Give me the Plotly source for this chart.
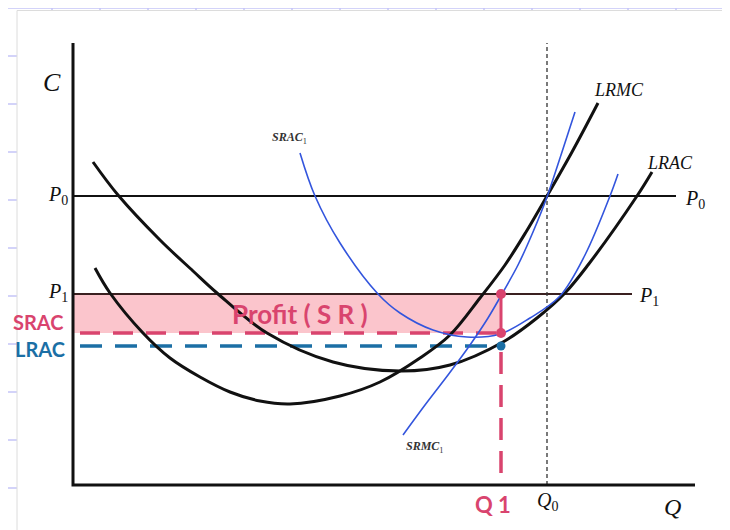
import plotly.graph_objects as go

# ---------------- data (Q, C units) ----------------
lrac_q = [2.0, 4.5, 8.7, 12.0, 14.4, 19.4, 26.0, 32.7, 37.7, 43.0, 46.4, 49.2, 51.5, 56.4, 57.9]
lrac_c = [32.3, 29.0, 24.5, 21.4, 19.2, 15.2, 12.3, 11.4, 12.0, 14.3, 16.7, 19.2, 22.0, 28.9, 31.3]

lrmc_q = [2.2, 3.7, 7.0, 9.7, 12.7, 15.7, 18.7, 21.7, 26.7, 30.7, 34.7, 37.7, 40.7, 43.2, 45.3, 47.4, 49.9, 52.5]
lrmc_c = [21.7, 19.2, 15.2, 12.7, 10.8, 9.3, 8.4, 8.1, 8.9, 10.3, 12.7, 15.0, 18.7, 22.0, 25.3, 28.9, 33.3, 38.2]

srac_q = [22.7, 24.2, 26.7, 30.5, 32.7, 36.0, 39.4, 42.7, 45.7, 48.7, 51.2, 53.7, 54.5]
srac_c = [33.2, 28.9, 24.2, 19.1, 17.2, 15.5, 14.8, 15.1, 16.7, 18.9, 23.0, 28.9, 31.1]

srmc_q = [33.0, 35.2, 37.5, 39.7, 41.5, 42.9, 44.5, 46.0, 47.4, 48.8, 50.2]
srmc_c = [5.0, 8.0, 11.0, 14.0, 16.7, 19.1, 22.0, 25.3, 28.8, 33.0, 37.3]

P0 = 28.9
P1 = 19.1
Q0 = 47.4
Q1 = 42.8
SRAC_AT_Q1 = 15.2
LRAC_AT_Q1 = 13.9
Q_AXIS_END = 62.2
C_AXIS_END = 44.2
P0_LINE_END = 60.3
P1_LINE_END = 55.9
DASH_START = 0.7

# ---------------- styles ----------------
BLACK = "#111111"
BLUE = "#3355dd"
PINK = "#d9446e"
TEAL = "#1b6fa5"
GRID = "#c4c4f7"
SERIF = "Liberation Serif, DejaVu Serif, serif"
HAND = "Lato, Noto Sans, sans-serif"

PAGE_W, PAGE_H = 730, 530
OFF = 8                       # default page margin of the html body
W, H = PAGE_W - OFF, PAGE_H - OFF
ORIGIN_X, ORIGIN_Y, UNIT = 73, 485, 10   # page pixel of (0,0) and pixels per unit

x_range = [(OFF - ORIGIN_X) / UNIT, (PAGE_W - ORIGIN_X) / UNIT]
y_range = [(ORIGIN_Y - PAGE_H) / UNIT, (ORIGIN_Y - OFF) / UNIT]

fig = go.Figure()

# profit rectangle
fig.add_trace(go.Scatter(
    x=[0, Q1, Q1, 0, 0], y=[P1, P1, SRAC_AT_Q1, SRAC_AT_Q1, P1],
    fill="toself", fillcolor="rgba(247,150,162,0.55)", line=dict(width=0),
    mode="lines", hoverinfo="skip"))

# price lines
fig.add_trace(go.Scatter(x=[0, P0_LINE_END], y=[P0, P0], mode="lines",
                         line=dict(color=BLACK, width=2)))
fig.add_trace(go.Scatter(x=[0, P1_LINE_END], y=[P1, P1], mode="lines",
                         line=dict(color="#3a2020", width=2)))

# Q0 dotted vertical
fig.add_trace(go.Scatter(x=[Q0, Q0], y=[0, C_AXIS_END], mode="lines",
                         line=dict(color="#333333", width=1.3, dash="4px,3px")))

# dashed SRAC / LRAC levels
fig.add_trace(go.Scatter(x=[DASH_START, Q1], y=[SRAC_AT_Q1, SRAC_AT_Q1], mode="lines",
                         line=dict(color=PINK, width=3.5, dash="20px,13px")))
fig.add_trace(go.Scatter(x=[DASH_START, Q1], y=[LRAC_AT_Q1, LRAC_AT_Q1], mode="lines",
                         line=dict(color=TEAL, width=3.5, dash="22px,13px")))

# curves
fig.add_trace(go.Scatter(x=lrac_q, y=lrac_c, mode="lines",
                         line=dict(color=BLACK, width=3, shape="spline", smoothing=1.0)))
fig.add_trace(go.Scatter(x=lrmc_q, y=lrmc_c, mode="lines",
                         line=dict(color=BLACK, width=3, shape="spline", smoothing=1.0)))
fig.add_trace(go.Scatter(x=srac_q, y=srac_c, mode="lines",
                         line=dict(color=BLUE, width=1.6, shape="spline", smoothing=1.0)))
fig.add_trace(go.Scatter(x=srmc_q, y=srmc_c, mode="lines",
                         line=dict(color=BLUE, width=1.6, shape="spline", smoothing=0.8)))

# Q1 vertical: solid between P1 and SRAC, dashed below
fig.add_trace(go.Scatter(x=[Q1, Q1], y=[P1, SRAC_AT_Q1], mode="lines",
                         line=dict(color=PINK, width=3)))
fig.add_trace(go.Scatter(x=[Q1, Q1], y=[LRAC_AT_Q1 - 0.6, 0], mode="lines",
                         line=dict(color=PINK, width=3.5, dash="22px,11px")))

# points
fig.add_trace(go.Scatter(x=[Q1, Q1], y=[P1, SRAC_AT_Q1], mode="markers",
                         marker=dict(color=PINK, size=10)))
fig.add_trace(go.Scatter(x=[Q1], y=[LRAC_AT_Q1], mode="markers",
                         marker=dict(color=TEAL, size=9)))

# axes
fig.add_trace(go.Scatter(x=[0, 0, Q_AXIS_END], y=[C_AXIS_END, 0, 0], mode="lines",
                         line=dict(color=BLACK, width=3)))

# ---------------- background grid (paper) ----------------
def px_x(p):
    return (p - OFF) / W


def px_y(p):
    return 1 - (p - OFF) / H


shapes = []
for i in range(16):
    px = 4 + 48 * i
    shapes.append(dict(type="line", xref="paper", yref="paper", x0=px_x(px), x1=px_x(px), y0=0, y1=1,
                       line=dict(color=GRID, width=1.5), layer="below"))
for j in range(12):
    py = 8 + 48 * j
    shapes.append(dict(type="line", xref="paper", yref="paper", x0=0, x1=1,
                       y0=px_y(py), y1=px_y(py), line=dict(color=GRID, width=1.5), layer="below"))
shapes.append(dict(type="rect", xref="paper", yref="paper", x0=px_x(17), x1=1.01, y0=-0.01, y1=px_y(10.5),
                   fillcolor="white", line=dict(color="#dcdcdc", width=1), layer="below"))

# ---------------- annotations ----------------
ann = []


def t(x, y, text, size, color=BLACK, family=SERIF, xanchor="center", weight=None):
    f = dict(size=size, color=color, family=family)
    if weight:
        f["weight"] = weight
    ann.append(dict(x=x, y=y, xref="x", yref="y", text=text, showarrow=False,
                    xanchor=xanchor, yanchor="middle", font=f))


t(-2.1, 40.3, "<i>C</i>", 26)
t(-0.3, P0 + 0.1, "<i>P</i><sub>0</sub>", 20, xanchor="right")
t(-0.3, P1 + 0.2, "<i>P</i><sub>1</sub>", 20, xanchor="right")
t(P0_LINE_END + 0.7, P0 - 0.3, "<i>P</i><sub>0</sub>", 20, xanchor="left")
t(P1_LINE_END + 0.5, P1 - 0.2, "<i>P</i><sub>1</sub>", 20, xanchor="left")
t(54.6, 39.5, "<i>LRMC</i>", 18)
t(59.7, 32.2, "<i>LRAC</i>", 18)
t(21.6, 34.7, "<i><b>SRAC</b></i><sub>1</sub>", 12, color="#333333")
t(35.2, 3.8, "<i><b>SRMC</b></i><sub>1</sub>", 12, color="#333333")
t(Q0, -1.6, "<i>Q</i><sub>0</sub>", 20)
t(59.9, -2.2, "<i>Q</i>", 24)
t(42.0, -1.9, "Q 1", 22, color=PINK, family=HAND, weight="bold")
t(-3.5, 16.3, "SRAC", 20, color=PINK, family=HAND, weight="bold")
t(-3.3, 13.6, "LRAC", 20, color=TEAL, family=HAND, weight="bold")
t(22.7, 17.1, "Profit ( S R )", 26, color=PINK, family=HAND, weight="bold")

fig.update_layout(
    width=W, height=H, margin=dict(l=0, r=0, t=0, b=0),
    paper_bgcolor="white", plot_bgcolor="rgba(0,0,0,0)",
    showlegend=False,
    xaxis=dict(range=x_range, visible=False, fixedrange=True),
    yaxis=dict(range=y_range, visible=False, fixedrange=True),
    shapes=shapes, annotations=ann,
)

fig.write_html("out.html")
